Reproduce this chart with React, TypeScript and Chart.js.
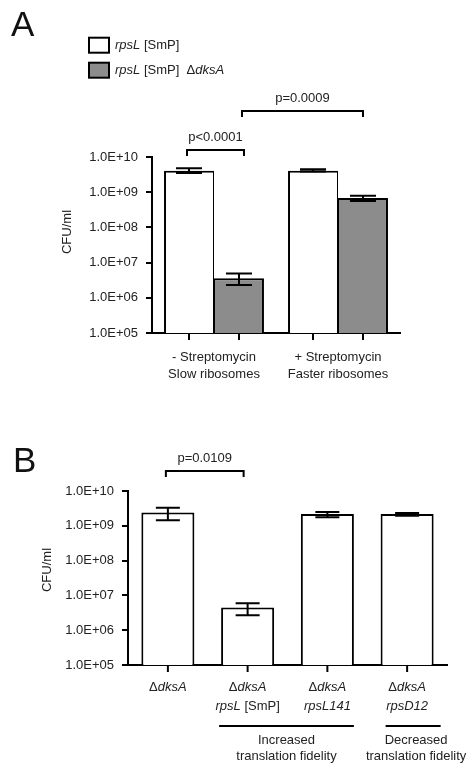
import React, { useEffect, useRef } from "react";
import { Chart, registerables } from "chart.js";

Chart.register(...registerables);

const FONT = "'Liberation Sans', Arial, Helvetica, sans-serif";
const TEXT = "#222";

// ---------- Panel A data ----------
const groupsA = [
  ["- Streptomycin", "Slow ribosomes"],
  ["+ Streptomycin", "Faster ribosomes"],
];
const seriesNamesA = ["*rpsL* [SmP]", "*rpsL* [SmP]  Δ*dksA*"];
const meanA_wt = [4.1e9, 4.1e9];
const lowA_wt = [3.5e9, 3.9e9];
const highA_wt = [4.8e9, 4.5e9];
const meanA_dks = [3.6e6, 6.8e8];
const lowA_dks = [2.3e6, 5.6e8];
const highA_dks = [4.9e6, 7.9e8];
const pValuesA = ["p<0.0001", "p=0.0009"];

// ---------- Panel B data ----------
const categoriesB = [
  "Δ*dksA*",
  "Δ*dksA*\n*rpsL* [SmP]",
  "Δ*dksA*\n*rpsL141*",
  "Δ*dksA*\n*rpsD12*",
];
const meanB = [2.4e9, 4.5e6, 2.18e9, 2.18e9];
const lowB = [1.44e9, 2.7e6, 1.76e9, 1.95e9];
const highB = [3.3e9, 5.9e6, 2.5e9, 2.35e9];
const groupLabelsB = ["Increased\ntranslation fidelity", "Decreased\ntranslation fidelity"];
const groupRangesB = [
  [1, 2],
  [3, 3],
];
const pValuesB = ["p=0.0109"];

// ---------- shared axis ----------
const yTickValues = [1e5, 1e6, 1e7, 1e8, 1e9, 1e10];
const yTickLabels = ["1.0E+05", "1.0E+06", "1.0E+07", "1.0E+08", "1.0E+09", "1.0E+10"];
const yTitle = "CFU/ml";
const panelLetters = ["A", "B"];

function fontStr(italic: boolean, size: number) {
  return `${italic ? "italic " : ""}${size}px ${FONT}`;
}

function drawRich(ctx: CanvasRenderingContext2D, text: string, x: number, y: number, size: number, align: "left" | "center") {
  const parts = text
    .split("*")
    .map((t, i) => ({ t, italic: i % 2 === 1 }))
    .filter((p) => p.t.length > 0);
  const widths = parts.map((p) => {
    ctx.font = fontStr(p.italic, size);
    return ctx.measureText(p.t).width;
  });
  const total = widths.reduce((a, b) => a + b, 0);
  let cx = align === "center" ? x - total / 2 : x;
  ctx.textAlign = "left";
  ctx.textBaseline = "middle";
  ctx.fillStyle = TEXT;
  parts.forEach((p, i) => {
    ctx.font = fontStr(p.italic, size);
    ctx.fillText(p.t, cx, y);
    cx += widths[i];
  });
}

function drawErr(ctx: CanvasRenderingContext2D, x: number, yLow: number, yHigh: number, half: number) {
  ctx.beginPath();
  ctx.moveTo(x, yLow);
  ctx.lineTo(x, yHigh);
  ctx.moveTo(x - half, yLow);
  ctx.lineTo(x + half, yLow);
  ctx.moveTo(x - half, yHigh);
  ctx.lineTo(x + half, yHigh);
  ctx.stroke();
}

function drawBracket(ctx: CanvasRenderingContext2D, x1: number, x2: number, y: number, drop: number, label: string) {
  ctx.beginPath();
  ctx.moveTo(x1, y + drop);
  ctx.lineTo(x1, y);
  ctx.lineTo(x2, y);
  ctx.lineTo(x2, y + drop);
  ctx.stroke();
  ctx.fillStyle = TEXT;
  ctx.font = fontStr(false, 13);
  ctx.textAlign = "center";
  ctx.textBaseline = "middle";
  ctx.fillText(label, (x1 + x2) / 2, y - 13);
}

function drawYTitle(ctx: CanvasRenderingContext2D, x: number, y: number) {
  ctx.save();
  ctx.translate(x, y);
  ctx.rotate(-Math.PI / 2);
  ctx.fillStyle = TEXT;
  ctx.font = fontStr(false, 13);
  ctx.textAlign = "center";
  ctx.textBaseline = "middle";
  ctx.fillText(yTitle, 0, 0);
  ctx.restore();
}

function drawLetter(ctx: CanvasRenderingContext2D, letter: string, x: number, y: number) {
  ctx.fillStyle = "#111";
  ctx.font = fontStr(false, 35);
  ctx.textAlign = "left";
  ctx.textBaseline = "alphabetic";
  ctx.fillText(letter, x, y);
}

function yScaleOpts(width: number) {
  return {
    type: "logarithmic" as const,
    min: yTickValues[0],
    max: yTickValues[yTickValues.length - 1],
    afterBuildTicks: (s: any) => {
      s.ticks = yTickValues.map((v) => ({ value: v }));
    },
    afterFit: (s: any) => {
      s.width = width;
    },
    ticks: {
      color: TEXT,
      font: { family: FONT, size: 13 },
      padding: 8,
      callback: (v: any) => {
        const i = yTickValues.findIndex((t) => Math.abs(Math.log10(t) - Math.log10(Number(v))) < 1e-6);
        return i >= 0 ? yTickLabels[i] : "";
      },
    },
    grid: { display: true, drawOnChartArea: false, drawTicks: true, tickLength: 6, color: "#000", lineWidth: 2 },
    border: { display: true, color: "#000", width: 2 },
  };
}

const panelAPlugin = {
  id: "panelA",
  afterDatasetsDraw(chart: any) {
    const ctx = chart.ctx as CanvasRenderingContext2D;
    const y = chart.scales.y;
    const errs = [
      [lowA_wt, highA_wt],
      [lowA_dks, highA_dks],
    ];
    ctx.save();
    ctx.strokeStyle = "#000";
    ctx.lineWidth = 2;
    chart.data.datasets.forEach((_: any, di: number) => {
      chart.getDatasetMeta(di).data.forEach((el: any, j: number) => {
        drawErr(ctx, el.x, y.getPixelForValue(errs[di][0][j]), y.getPixelForValue(errs[di][1][j]), 13);
      });
    });
    ctx.restore();
  },
  afterDraw(chart: any) {
    const ctx = chart.ctx as CanvasRenderingContext2D;
    const ca = chart.chartArea;
    const m0 = chart.getDatasetMeta(0).data;
    const m1 = chart.getDatasetMeta(1).data;
    ctx.save();
    ctx.strokeStyle = "#000";
    ctx.lineWidth = 2;
    // x tick marks at each bar centre
    [...m0, ...m1].forEach((el: any) => {
      ctx.beginPath();
      ctx.moveTo(el.x, ca.bottom);
      ctx.lineTo(el.x, ca.bottom + 7);
      ctx.stroke();
    });
    // significance brackets
    drawBracket(ctx, m0[0].x - 2, m1[0].x + 5, ca.top - 7, 6, pValuesA[0]);
    drawBracket(ctx, m1[0].x + 3, m1[1].x, ca.top - 46, 6, pValuesA[1]);
    // legend
    const colors = ["#ffffff", "#8c8c8c"];
    const boxY = [37.7, 62.7];
    seriesNamesA.forEach((name, i) => {
      ctx.fillStyle = colors[i];
      ctx.fillRect(89, boxY[i], 20, 15);
      ctx.strokeStyle = "#000";
      ctx.lineWidth = 2;
      ctx.strokeRect(89, boxY[i], 20, 15);
      drawRich(ctx, name, 115, boxY[i] + 7.5, 13, "left");
    });
    drawYTitle(ctx, 67, 232);
    drawLetter(ctx, panelLetters[0], 11, 36);
    ctx.restore();
  },
};

const panelBPlugin = {
  id: "panelB",
  afterDatasetsDraw(chart: any) {
    const ctx = chart.ctx as CanvasRenderingContext2D;
    const y = chart.scales.y;
    ctx.save();
    ctx.strokeStyle = "#000";
    ctx.lineWidth = 2;
    chart.getDatasetMeta(0).data.forEach((el: any, j: number) => {
      drawErr(ctx, el.x, y.getPixelForValue(lowB[j]), y.getPixelForValue(highB[j]), 12);
    });
    ctx.restore();
  },
  afterDraw(chart: any) {
    const ctx = chart.ctx as CanvasRenderingContext2D;
    const ca = chart.chartArea;
    const m = chart.getDatasetMeta(0).data;
    ctx.save();
    ctx.strokeStyle = "#000";
    ctx.lineWidth = 2;
    m.forEach((el: any) => {
      ctx.beginPath();
      ctx.moveTo(el.x, ca.bottom);
      ctx.lineTo(el.x, ca.bottom + 7);
      ctx.stroke();
    });
    // category labels (mixed italic)
    categoriesB.forEach((lab, i) => {
      lab.split("\n").forEach((line, k) => {
        drawRich(ctx, line, m[i].x, ca.bottom + 22 + k * 19, 13, "center");
      });
    });
    // group lines
    const shifts = [0, 7];
    groupRangesB.forEach((r, g) => {
      const a = m[r[0]];
      const b = m[r[1]];
      const x1 = a.x - a.width / 2 - 2 + shifts[g];
      const x2 = b.x + b.width / 2 + shifts[g];
      const ly = ca.bottom + 61;
      ctx.strokeStyle = "#000";
      ctx.lineWidth = 2;
      ctx.beginPath();
      ctx.moveTo(x1, ly);
      ctx.lineTo(x2, ly);
      ctx.stroke();
      groupLabelsB[g].split("\n").forEach((line, k) => {
        drawRich(ctx, line, (x1 + x2) / 2 + (g === 1 ? 3 : 0), ly + 14 + k * 16, 13, "center");
      });
    });
    drawBracket(ctx, m[0].x - 2, m[1].x - 4, ca.top - 20, 6, pValuesB[0]);
    drawYTitle(ctx, 47, 170);
    drawLetter(ctx, panelLetters[1], 13, 72);
    ctx.restore();
  },
};

export default function App() {
  const refA = useRef<HTMLCanvasElement | null>(null);
  const refB = useRef<HTMLCanvasElement | null>(null);

  useEffect(() => {
    if (!refA.current || !refB.current) return;
    const chartA = new Chart(refA.current, {
      type: "bar",
      data: {
        labels: groupsA as any,
        datasets: [
          {
            label: seriesNamesA[0],
            data: meanA_wt,
            backgroundColor: "#ffffff",
            borderColor: "#000",
            borderWidth: { top: 2, left: 2, right: 1, bottom: 0 },
            categoryPercentage: 0.806,
            barPercentage: 1,
          },
          {
            label: seriesNamesA[1],
            data: meanA_dks,
            backgroundColor: "#8c8c8c",
            borderColor: "#000",
            borderWidth: { top: 2, left: 1, right: 2, bottom: 0 },
            categoryPercentage: 0.806,
            barPercentage: 1,
          },
        ],
      },
      options: {
        responsive: false,
        animation: false,
        devicePixelRatio: 1,
        layout: { padding: { top: 157, right: 71, left: 0, bottom: 0 } },
        plugins: { legend: { display: false }, tooltip: { enabled: false } },
        scales: {
          x: {
            grid: { display: false, drawTicks: false },
            border: { display: true, color: "#000", width: 2 },
            ticks: { color: TEXT, font: { family: FONT, size: 13, lineHeight: 1.3 }, padding: 16, maxRotation: 0 },
            afterFit: (s: any) => {
              s.height = 67;
            },
          },
          y: yScaleOpts(152) as any,
        },
      },
      plugins: [panelAPlugin],
    });

    const chartB = new Chart(refB.current, {
      type: "bar",
      data: {
        labels: categoriesB.map((c) => c.replace(/\*/g, "")),
        datasets: [
          {
            label: "CFU/ml",
            data: meanB,
            backgroundColor: "#ffffff",
            borderColor: "#000",
            borderWidth: { top: 2, left: 2, right: 2, bottom: 0 },
            categoryPercentage: 0.665,
            barPercentage: 1,
          },
        ],
      },
      options: {
        responsive: false,
        animation: false,
        devicePixelRatio: 1,
        layout: { padding: { top: 91, right: 24, left: 0, bottom: 0 } },
        plugins: { legend: { display: false }, tooltip: { enabled: false } },
        scales: {
          x: {
            grid: { display: false, drawTicks: false },
            border: { display: true, color: "#000", width: 2 },
            ticks: { display: false },
            afterFit: (s: any) => {
              s.height = 100;
            },
          },
          y: yScaleOpts(128) as any,
        },
      },
      plugins: [panelBPlugin],
    });

    return () => {
      chartA.destroy();
      chartB.destroy();
    };
  }, []);

  return (
    <div style={{ position: "absolute", left: 0, top: 0, width: 471, height: 765, background: "#fff" }}>
      <canvas ref={refA} width={471} height={400} style={{ position: "absolute", left: 0, top: 0, width: 471, height: 400 }} />
      <canvas ref={refB} width={471} height={365} style={{ position: "absolute", left: 0, top: 400, width: 471, height: 365 }} />
    </div>
  );
}
